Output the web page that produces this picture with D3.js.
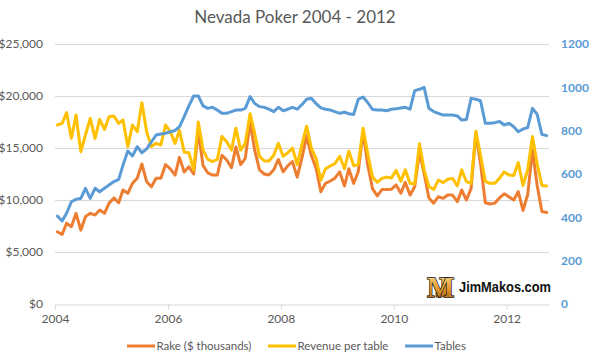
<!DOCTYPE html>
<html>
<head>
<meta charset="utf-8">
<script src="https://cdn.jsdelivr.net/npm/d3@7"></script>
<style>
  html, body { margin: 0; padding: 0; background: #fff; }
  svg { display: block; }
  .lab { font-family: Lato, "Open Sans", sans-serif; fill: #595959; }
</style>
</head>
<body>
<svg id="chart" width="592" height="355"></svg>
<script>
// ---- data (monthly, Jan 2004 - Sep 2012) ----
const title = "Nevada Poker 2004 - 2012";
const firstMonth = "2004-01";
const seriesNames = ["Rake ($ thousands)", "Revenue per table", "Tables"];

const rake = [
  6950, 6700, 7760, 7430, 8720, 7100, 8400, 8720, 8560, 9040, 8720, 9700,
  10200, 9740, 10960, 10640, 11600, 12100, 13460, 11760, 11280, 12100, 12100, 13400,
  13000, 12400, 14100, 12700, 13200, 12500, 16600, 13300, 12600, 12400, 12400, 14300,
  13850, 13100, 15100, 13400, 14000, 17500, 14800, 12900, 12500, 12400, 12900, 13900,
  12700, 13300, 13700, 12200, 14000, 16150, 14300, 13050, 10800, 11600, 11830, 12100,
  12700, 11350, 13000, 11600, 12720, 16600, 13400, 11100, 10400, 11000, 11000, 11030,
  11450, 10650, 11700, 10480, 11280, 14600, 12560, 10200, 9700, 10320, 10160, 10480,
  10480, 9840, 10960, 10000, 11120, 16400, 13500, 9740, 9620, 9700, 10200, 10600,
  10300, 10000, 10800, 9000, 10500, 14800, 11450, 8900, 8800
];
const revenue = [
  17210, 17370, 18400, 15930, 18170, 14650, 16250, 17850, 15930, 17750, 16790, 18010,
  18080, 17370, 17690, 15130, 17210, 16570, 19360, 16570, 15130, 15450, 15290, 17210,
  16570, 15450, 16700, 14600, 14550, 12900, 17500, 14800, 13900, 13700, 13900, 16100,
  15600, 14800, 16900, 14800, 15450, 18300, 16400, 14200, 13750, 13750, 14300, 15450,
  14200, 14550, 15000, 13400, 15300, 17100, 15000, 14000, 11900, 13000, 13270, 13500,
  14200, 13000, 14700, 13300, 13400, 16900, 14500, 12200, 11700, 12080, 12200, 12100,
  12850, 11800, 12900, 11600, 11540, 15400, 12900, 11300, 11000, 11920, 11670, 11990,
  12080, 11350, 12900, 11760, 11600, 16600, 14300, 11800, 11600, 11600, 12100, 12700,
  12400, 12350, 13600, 11400, 12900, 16100, 13500, 11400, 11350
];
const tables = [
  406, 383, 419, 472, 483, 487, 534, 487, 534, 518, 534, 549,
  565, 575, 641, 706, 683, 726, 698, 716, 749, 780, 785, 788,
  795, 801, 818, 865, 914, 960, 960, 914, 903, 908, 895, 880,
  880, 888, 895, 895, 903, 957, 926, 911, 908, 899, 888, 908,
  892, 899, 908, 899, 920, 945, 950, 925, 905, 899, 895, 888,
  880, 885, 878, 875, 945, 955, 930, 898, 895, 895, 892, 899,
  901, 905, 908, 899, 985, 991, 1000, 903, 888, 880, 872, 872,
  872, 868, 849, 852, 949, 945, 938, 834, 834, 837, 842, 826,
  834, 818, 795, 808, 814, 903, 876, 783, 777
];
const leftTicks = [0, 5000, 10000, 15000, 20000, 25000];
const rightTicks = [0, 200, 400, 600, 800, 1000, 1200];
const yearTicks = [2004, 2006, 2008, 2010, 2012];
const colors = ["#ED7D31", "#FFC000", "#5B9BD5"];

// ---- chart ----
const svg = d3.select("#chart");
svg.append("rect").attr("width", 592).attr("height", 355).attr("fill", "#fff");

const parseMonth = d3.timeParse("%Y-%m");
const start = parseMonth(firstMonth);
const dates = rake.map((_, i) => d3.timeDay.offset(d3.timeMonth.offset(start, i), 15));

const x = d3.scaleTime()
  .domain([start, d3.timeMonth.offset(start, rake.length)])
  .range([55, 549]);
const yL = d3.scaleLinear().domain([0, 25000]).range([304, 44]);
const yR = d3.scaleLinear().domain([0, 1200]).range([304, 44]);

// gridlines
svg.append("g").selectAll("line").data(leftTicks.slice(1)).join("line")
  .attr("x1", 55).attr("x2", 549)
  .attr("y1", d => Math.round(yL(d)) + 0.5).attr("y2", d => Math.round(yL(d)) + 0.5)
  .attr("stroke", "#d9d9d9").attr("stroke-width", 1);

// left axis labels
const fmt = d => "$" + d3.format(",")(d);
svg.append("g").selectAll("text").data(leftTicks).join("text")
  .attr("class", "lab")
  .attr("x", 43).attr("y", d => yL(d)).attr("dy", "0.35em")
  .attr("text-anchor", "end").attr("font-size", 12)
  .text(fmt);

// right axis labels
svg.append("g").selectAll("text").data(rightTicks).join("text")
  .attr("x", 561).attr("y", d => yR(d)).attr("dy", "0.35em")
  .attr("font-family", "Lato, 'Open Sans', sans-serif")
  .attr("font-weight", "bold")
  .attr("font-size", 12)
  .attr("fill", "#5B9BD5")
  .text(d => d);

// bottom axis
const xAxis = d3.axisBottom(x)
  .tickValues(yearTicks.map(yv => new Date(yv, 0, 1)))
  .tickFormat(d3.timeFormat("%Y"))
  .tickSize(5).tickSizeOuter(0);
const gx = svg.append("g").attr("transform", "translate(0,304.5)").call(xAxis);
gx.select(".domain").attr("stroke", "#d9d9d9");
gx.selectAll(".tick line").attr("stroke", "#d9d9d9");
gx.selectAll(".tick text")
  .attr("class", "lab")
  .attr("font-size", 12).attr("y", 10);

// lines
const lineL = d3.line().x((d, i) => x(dates[i])).y(d => yL(d));
const lineR = d3.line().x((d, i) => x(dates[i])).y(d => yR(d));
const seriesData = [
  { v: rake, gen: lineL, c: colors[0] },
  { v: revenue, gen: lineL, c: colors[1] },
  { v: tables, gen: lineR, c: colors[2] }
];
svg.append("g").selectAll("path").data(seriesData).join("path")
  .attr("d", s => s.gen(s.v))
  .attr("fill", "none")
  .attr("stroke", s => s.c)
  .attr("stroke-width", 3)
  .attr("stroke-linejoin", "round")
  .attr("stroke-linecap", "round");

// title
svg.append("text").attr("class", "lab")
  .attr("x", 295).attr("y", 23)
  .attr("text-anchor", "middle")
  .attr("font-size", 17)
  .text(title);

// legend
const legX = [127, 268, 405];
const leg = svg.append("g").selectAll("g").data(seriesNames).join("g")
  .attr("transform", (d, i) => `translate(${legX[i]},346)`);
leg.append("line").attr("x1", 0).attr("x2", 28).attr("y1", 0).attr("y2", 0)
  .attr("stroke", (d, i) => colors[i]).attr("stroke-width", 3);
leg.append("text").attr("class", "lab")
  .attr("x", 29.5).attr("y", 0).attr("dy", "0.35em")
  .attr("font-size", 11.5)
  .text(d => d);

// watermark logo: monogram as a single text run with per-glyph x positions
const defs = svg.append("defs");
const grad = defs.append("linearGradient").attr("id", "gold")
  .attr("x1", 0).attr("y1", 0).attr("x2", 0).attr("y2", 1);
grad.append("stop").attr("offset", "0%").attr("stop-color", "#fbe3a0");
grad.append("stop").attr("offset", "55%").attr("stop-color", "#e39a2c");
grad.append("stop").attr("offset", "100%").attr("stop-color", "#9c5614");
svg.append("text")
  .attr("x", "435 427").attr("y", 297)
  .attr("font-family", "'Liberation Serif', 'DejaVu Serif', serif")
  .attr("font-weight", "bold").attr("font-size", 29)
  .attr("fill", "url(#gold)").attr("stroke", "#111").attr("stroke-width", 1.3)
  .attr("paint-order", "stroke")
  .text("JM");
svg.append("text")
  .attr("x", 459).attr("y", 291.5)
  .attr("font-family", "'Liberation Sans', Arial, sans-serif")
  .attr("font-weight", "bold").attr("font-size", 15)
  .attr("textLength", 92).attr("lengthAdjust", "spacingAndGlyphs")
  .attr("fill", "#111")
  .text("JimMakos.com");
</script>
</body>
</html>
